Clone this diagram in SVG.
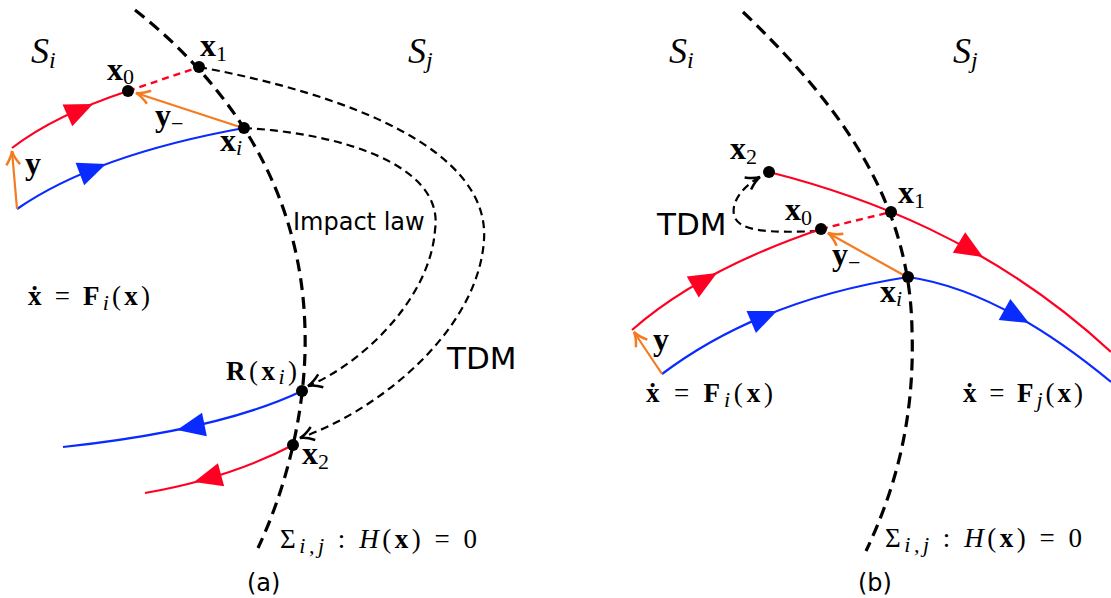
<svg xmlns="http://www.w3.org/2000/svg" width="1111" height="598" viewBox="0 0 1111 598">
<style>
.bd{fill:none;stroke:#000;stroke-width:3.2;stroke-dasharray:12 7}
.map{fill:none;stroke:#000;stroke-width:2.2;stroke-dasharray:8 5;marker-end:url(#ah)}
.red{fill:none;stroke:#FF0022;stroke-width:2.2}
.redd{fill:none;stroke:#FF0022;stroke-width:2.4;stroke-dasharray:7 5}
.blue{fill:none;stroke:#0A2BFF;stroke-width:2.2}
.or{fill:none;stroke:#F47B20;stroke-width:2.2;marker-end:url(#ao)}
.fr{fill:#FF0022}
.fb{fill:#0A2BFF}
.pt{fill:#000}
.m{font-family:"Liberation Serif","DejaVu Serif",serif;font-size:32px;fill:#000}
.b{font-weight:bold}
.it{font-style:italic}
.s{font-size:22px}
.sv{font-size:36px}
.ss{font-size:24px}
.f{font-size:27px}
.sans{font-family:"DejaVu Sans",sans-serif;fill:#000}
</style>
<defs>
<marker id="ah" markerUnits="userSpaceOnUse" orient="auto" markerWidth="20" markerHeight="20" viewBox="-14 -8 16 16" refX="0" refY="0" overflow="visible">
<path d="M-11,-5.5 Q-5,-1 0,0 Q-5,1 -11,5.5" fill="none" stroke="#000" stroke-width="2"/>
</marker>
<marker id="ao" markerUnits="userSpaceOnUse" orient="auto" markerWidth="20" markerHeight="20" viewBox="-14 -8 16 16" refX="0" refY="0" overflow="visible">
<path d="M-11,-5.5 Q-5,-1 0,0 Q-5,1 -11,5.5" fill="none" stroke="#F47B20" stroke-width="2"/>
</marker>
<path id="tri" d="M0,0 L-28,-12 L-28,12 Z"/>
</defs>

<g id="panel-a">
  <g id="a-connectors">
    <path id="a-boundary" class="bd" d="M135,10 C230,85 302,190 305,330 C307,400 290,480 258,548"/>
    <path id="a-tdm" class="map" d="M199,67 C350,95 490,150 484,240 C478,330 380,410 300,438"/>
    <path id="a-impact" class="map" d="M244,128 C340,133 445,165 435,230 C430,300 360,365 308,386"/>
    <path class="red" d="M12,148 Q55,115 128,91"/>
    <path class="redd" d="M128,91 L199,67"/>
    <path class="blue" d="M17,209 Q95,155 244,128"/>
    <path class="blue" d="M302,391 Q220,430 63,447"/>
    <path class="red" d="M293,445 Q230,478 145,493"/>
    <path class="or" d="M17,209 L12,151"/>
    <path class="or" d="M243,128 L136,93"/>
    <use href="#tri" class="fr" transform="translate(93,104) rotate(-24)"/>
    <use href="#tri" class="fb" transform="translate(106,164) rotate(-21)"/>
    <use href="#tri" class="fb" transform="translate(177,430) rotate(168.5)"/>
    <use href="#tri" class="fr" transform="translate(194,482) rotate(165)"/>
  </g>
  <g id="a-x1"><circle class="pt" cx="199" cy="67" r="6"/><text class="m" x="200" y="56"><tspan class="b">x</tspan><tspan class="s" dy="5">1</tspan></text></g>
  <g id="a-x0"><circle class="pt" cx="128" cy="91" r="6"/><text class="m" x="107" y="80"><tspan class="b">x</tspan><tspan class="s" dy="4">0</tspan></text></g>
  <g id="a-xi"><circle class="pt" cx="244" cy="128" r="6"/><text class="m" x="220" y="151"><tspan class="b">x</tspan><tspan class="s it" dy="4">i</tspan></text></g>
  <g id="a-Rxi"><circle class="pt" cx="302" cy="391" r="6"/><text class="m f" x="226" y="380" textLength="71" lengthAdjust="spacing"><tspan class="b">R</tspan>(<tspan class="b">x</tspan><tspan class="s it" dy="4">i</tspan><tspan dy="-4">)</tspan></text></g>
  <g id="a-x2"><circle class="pt" cx="293" cy="445" r="6"/><text class="m" x="302" y="464"><tspan class="b">x</tspan><tspan class="s" dy="5">2</tspan></text></g>
  <g id="a-labels">
    <text class="m it sv" x="31" y="63">S<tspan class="ss" dy="5">i</tspan></text>
    <text class="m it sv" x="408" y="63">S<tspan class="ss" dy="5">j</tspan></text>
    <text class="m" x="155" y="126"><tspan class="b">y</tspan><tspan class="s" dy="5">−</tspan></text>
    <text class="m b" x="25" y="174">y</text>
    <text class="sans" x="293" y="230" font-size="24">Impact law</text>
    <text class="sans" x="447" y="369" font-size="31">TDM</text>
    <text class="m f" x="28" y="305" textLength="122" lengthAdjust="spacing"><tspan class="b">ẋ</tspan> = <tspan class="b">F</tspan><tspan class="s it" dy="5">i</tspan><tspan dy="-5">(</tspan><tspan class="b">x</tspan>)</text>
    <text class="m f" x="280" y="548" textLength="197" lengthAdjust="spacing">Σ<tspan class="s it" dy="5">i,j</tspan><tspan dy="-5"> : </tspan><tspan class="it">H</tspan>(<tspan class="b">x</tspan>) = 0</text>
    <text class="sans" x="247" y="591" font-size="24">(a)</text>
  </g>
</g>

<g id="panel-b">
  <g id="b-connectors">
    <path id="b-boundary" class="bd" d="M743,12 C840,105 910,200 912,330 C915,420 895,490 866,551"/>
    <path id="b-tdm" class="map" d="M818,231 C770,233 738,232 734,215 C731,200 745,185 760,177"/>
    <path class="red" d="M769,172 C860,195 990,240 1111,352"/>
    <path class="red" d="M632,330 Q700,270 821,229"/>
    <path class="redd" d="M821,229 L891,212"/>
    <path class="blue" d="M662,374 Q760,300 908,277"/>
    <path class="blue" d="M908,277 Q1000,290 1111,382"/>
    <path class="or" d="M662,374 L634,332"/>
    <path class="or" d="M907,277 L828,233"/>
    <use href="#tri" class="fr" transform="translate(717,273) rotate(-30)"/>
    <use href="#tri" class="fr" transform="translate(983,257) rotate(31)"/>
    <use href="#tri" class="fb" transform="translate(777,311) rotate(-23)"/>
    <use href="#tri" class="fb" transform="translate(1029,323) rotate(29)"/>
  </g>
  <g id="b-x2"><circle class="pt" cx="769" cy="172" r="6"/><text class="m" x="730" y="159"><tspan class="b">x</tspan><tspan class="s" dy="5">2</tspan></text></g>
  <g id="b-x1"><circle class="pt" cx="891" cy="212" r="6"/><text class="m" x="898" y="203"><tspan class="b">x</tspan><tspan class="s" dy="5">1</tspan></text></g>
  <g id="b-x0"><circle class="pt" cx="821" cy="229" r="6"/><text class="m" x="785" y="220"><tspan class="b">x</tspan><tspan class="s" dy="5">0</tspan></text></g>
  <g id="b-xi"><circle class="pt" cx="908" cy="277" r="6"/><text class="m" x="880" y="302"><tspan class="b">x</tspan><tspan class="s it" dy="4">i</tspan></text></g>
  <g id="b-labels">
    <text class="m it sv" x="669" y="63">S<tspan class="ss" dy="5">i</tspan></text>
    <text class="m it sv" x="953" y="63">S<tspan class="ss" dy="5">j</tspan></text>
    <text class="m" x="832" y="265"><tspan class="b">y</tspan><tspan class="s" dy="5">−</tspan></text>
    <text class="m b" x="653" y="350">y</text>
    <text class="sans" x="657" y="235" font-size="31">TDM</text>
    <text class="m f" x="646" y="402" textLength="127" lengthAdjust="spacing"><tspan class="b">ẋ</tspan> = <tspan class="b">F</tspan><tspan class="s it" dy="5">i</tspan><tspan dy="-5">(</tspan><tspan class="b">x</tspan>)</text>
    <text class="m f" x="963" y="402" textLength="120" lengthAdjust="spacing"><tspan class="b">ẋ</tspan> = <tspan class="b">F</tspan><tspan class="s it" dy="5">j</tspan><tspan dy="-5">(</tspan><tspan class="b">x</tspan>)</text>
    <text class="m f" x="885" y="547" textLength="197" lengthAdjust="spacing">Σ<tspan class="s it" dy="5">i,j</tspan><tspan dy="-5"> : </tspan><tspan class="it">H</tspan>(<tspan class="b">x</tspan>) = 0</text>
    <text class="sans" x="858" y="591" font-size="24">(b)</text>
  </g>
</g>
</svg>
